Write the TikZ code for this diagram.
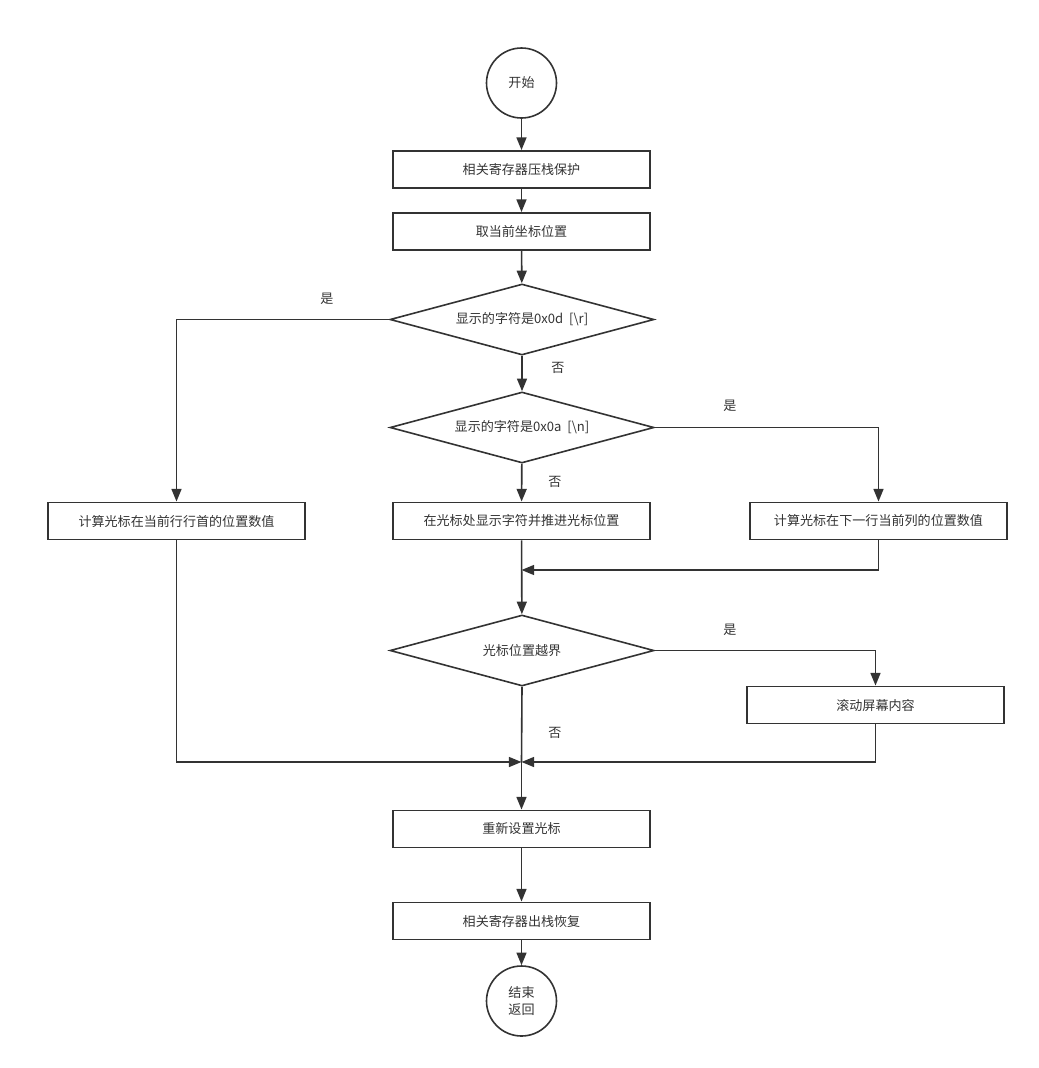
\documentclass[tikz,border=0pt]{standalone}
\usepackage{fontspec}
\setmainfont{Noto Sans CJK SC}
\usetikzlibrary{shapes.geometric,arrows.meta}
\definecolor{linegray}{HTML}{333333}
\begin{document}
\begin{tikzpicture}[x=0.75pt,y=-0.75pt,
	every node/.style={font=\fontsize{9.8}{12.5}\selectfont,text=linegray},
	procbox/.style={rectangle,draw=linegray,line width=1.2pt,minimum width=192.75pt,minimum height=28pt,inner sep=0pt},
	testbox/.style={diamond,draw=linegray,line width=1.2pt,shape aspect=3.7,minimum width=198pt,minimum height=53.25pt,inner sep=0pt},
	termbox/.style={circle,draw=linegray,line width=1.2pt,minimum size=52.5pt,inner sep=0pt,align=center},
	flow/.style={draw=linegray,line width=1.2pt,-{Triangle[length=9.5pt,width=7.5pt]}},
	plain/.style={draw=linegray,line width=1.2pt}]
	\useasboundingbox (0,0) rectangle (1039,1068);
	% main column
	\node[termbox](start) at (521.5,83) {开始};
	\node[procbox](save) at (521.5,169.5) {相关寄存器压栈保护};
	\node[procbox](getpos) at (521.5,231.5) {取当前坐标位置};
	\node[testbox](isr) at (522,319.5) {显示的字符是0x0d\ \ [\textbackslash r]};
	\node[testbox](isn) at (522,427.5) {显示的字符是0x0a\ \ [\textbackslash n]};
	\node[procbox](linehead) at (176.5,521) {计算光标在当前行行首的位置数值};
	\node[procbox](showchar) at (521.5,521) {在光标处显示字符并推进光标位置};
	\node[procbox](nextline) at (878.5,521) {计算光标在下一行当前列的位置数值};
	\node[testbox](bound) at (522,650.5) {光标位置越界};
	\node[procbox](scroll) at (875.5,705) {滚动屏幕内容};
	\node[procbox](setcur) at (521.5,829) {重新设置光标};
	\node[procbox](restore) at (521.5,921) {相关寄存器出栈恢复};
	\node[termbox](finish) at (521.5,1001) {结束\\返回};
	% joins
	\coordinate (joinA) at (521.5,570);
	\coordinate (joinB) at (521.5,762);
	% connectors
	\draw[flow] (start) -- (save);
	\draw[flow] (save) -- (getpos);
	\draw[flow] (getpos) -- (isr);
	\draw[flow] (isr) -- (isn);
	\draw[flow] (isr.west) -| (linehead.north);
	\draw[flow] (isn.east) -| (nextline.north);
	\draw[flow] (isn) -- (showchar);
	\draw[flow] (nextline.south) |- (joinA);
	\draw[flow] (showchar) -- (bound);
	\draw[flow] (bound.east) -| (scroll.north);
	\draw[plain] (bound.south) -- (joinB);
	\draw[flow] (linehead.south) |- (joinB);
	\draw[flow] (scroll.south) |- (joinB);
	\draw[flow] (joinB) -- (setcur);
	\draw[flow] (setcur) -- (restore);
	\draw[flow] (restore) -- (finish);
	% labels
	\node(yesr) at (327,299) {是};
	\node(nor) at (558,368) {否};
	\node(yesn) at (730,406) {是};
	\node(non) at (555,482) {否};
	\node(yesb) at (730,630) {是};
	\node(nob) at (555,733) {否};
\end{tikzpicture}
\end{document}
